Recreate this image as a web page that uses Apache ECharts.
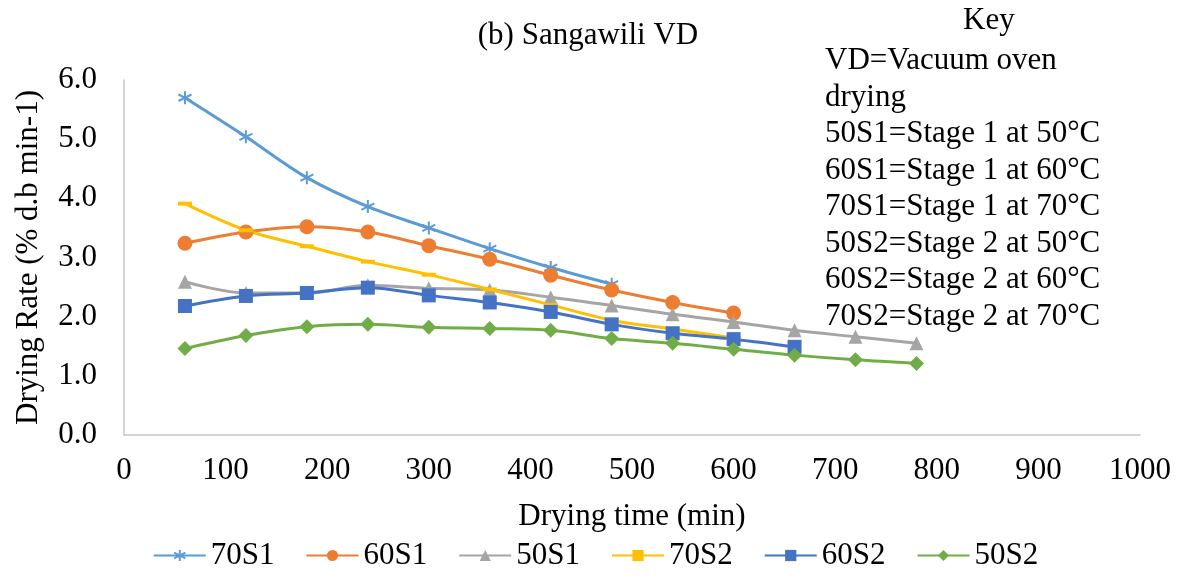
<!DOCTYPE html>
<html>
<head>
<meta charset="utf-8">
<title>Sangawili VD</title>
<script src="https://cdn.jsdelivr.net/npm/echarts@6/dist/echarts.min.js"></script>
<style>
	html, body {
		margin: 0;
		padding: 0;
		background: #fff;
	}
	#chart {
		width: 1191px;
		height: 579px;
	}
</style>
</head>
<body>
<div id="chart"></div>
<script>
// drying time (min), shared by all series
const times = [60, 120, 180, 240, 300, 360, 420, 480, 540, 600, 660, 720, 780];
const rate70S1 = [5.70, 5.04, 4.35, 3.86, 3.50, 3.15, 2.83, 2.55];
const rate60S1 = [3.24, 3.43, 3.52, 3.43, 3.20, 2.97, 2.70, 2.45, 2.24, 2.06];
const rate50S1 = [2.59, 2.40, 2.40, 2.53, 2.48, 2.45, 2.33, 2.19, 2.04, 1.91, 1.77, 1.66, 1.55];
const rate70S2 = [3.91, 3.46, 3.19, 2.93, 2.71, 2.46, 2.20, 1.94, 1.79, 1.64];
const rate60S2 = [2.18, 2.35, 2.40, 2.49, 2.36, 2.24, 2.08, 1.87, 1.72, 1.62, 1.49];
const rate50S2 = [1.46, 1.68, 1.83, 1.87, 1.82, 1.80, 1.77, 1.63, 1.55, 1.45, 1.35, 1.27, 1.21];
const keyLines = [
	'VD=Vacuum oven',
	'drying',
	'50S1=Stage 1 at 50°C',
	'60S1=Stage 1 at 60°C',
	'70S1=Stage 1 at 70°C',
	'50S2=Stage 2 at 50°C',
	'60S2=Stage 2 at 60°C',
	'70S2=Stage 2 at 70°C'
];

const font = "'Liberation Serif', 'Times New Roman', serif";
const fontSize = 31;
const star = 'path://M10,0L10,20M1.3,5L18.7,15M1.3,15L18.7,5';

function pairs(values) {
	return values.map((v, i) => [times[i], v]);
}

function makeSeries(name, values, color, symbol, size) {
	return {
		name: name,
		type: 'line',
		data: pairs(values),
		smooth: 0.35,
		symbol: symbol,
		symbolSize: size,
		showSymbol: true,
		lineStyle: { color: color, width: 3 },
		itemStyle: {
			color: symbol === star ? 'rgba(0,0,0,0)' : color,
			borderColor: color,
			borderWidth: symbol === star ? 2 : 0
		},
		emphasis: { disabled: true }
	};
}

let chart = echarts.init(document.getElementById('chart'));
const opt = {
	animation: false,
	title: {
		text: '(b) Sangawili VD',
		left: 583,
		top: 15,
		textAlign: 'center',
		textStyle: { fontFamily: font, fontSize: fontSize, fontWeight: 'normal', color: '#000' }
	},
	graphic: [
		{
			type: 'text',
			left: 963,
			top: 5,
			style: { text: 'Key', font: fontSize + 'px ' + font, fill: '#000' }
		},
		{
			type: 'text',
			left: 825,
			top: 43,
			style: {
				text: keyLines.join('\n'),
				font: fontSize + 'px ' + font,
				lineHeight: 36.5,
				fill: '#000'
			}
		}
	],
	legend: {
		bottom: 3,
		left: 'center',
		itemWidth: 52,
		itemHeight: 14,
		itemGap: 31,
		textStyle: { fontFamily: font, fontSize: fontSize, color: '#000' },
		data: ['70S1', '60S1', '50S1', '70S2', '60S2', '50S2']
	},
	grid: {
		left: 124,
		right: 51,
		top: 80,
		bottom: 144
	},
	xAxis: {
		type: 'value',
		min: 0,
		max: 1000,
		interval: 100,
		name: 'Drying time (min)',
		nameLocation: 'middle',
		nameGap: 66,
		nameTextStyle: { fontFamily: font, fontSize: fontSize, color: '#000' },
		axisLine: { show: true, lineStyle: { color: '#c8c8c8', width: 1.5 } },
		axisTick: { show: false },
		splitLine: { show: false },
		axisLabel: {
			margin: 20,
			fontFamily: font,
			fontSize: fontSize,
			color: '#000',
			formatter: value => String(value)
		}
	},
	yAxis: {
		type: 'value',
		min: 0,
		max: 6,
		interval: 1,
		name: 'Drying Rate (% d.b min-1)',
		nameLocation: 'middle',
		nameGap: 80,
		nameTextStyle: { fontFamily: font, fontSize: fontSize, color: '#000' },
		axisLine: { show: true, lineStyle: { color: '#c8c8c8', width: 1.5 } },
		axisTick: { show: false },
		splitLine: { show: false },
		axisLabel: {
			margin: 27,
			fontFamily: font,
			fontSize: fontSize,
			color: '#000',
			formatter: value => value.toFixed(1)
		}
	},
	series: [
		makeSeries('70S1', rate70S1, '#5B9BD5', star, 13),
		makeSeries('60S1', rate60S1, '#ED7D31', 'circle', 15),
		makeSeries('50S1', rate50S1, '#A5A5A5', 'triangle', 14),
		makeSeries('70S2', rate70S2, '#FFC000', 'rect', [14, 4]),
		makeSeries('60S2', rate60S2, '#4472C4', 'rect', 14),
		makeSeries('50S2', rate50S2, '#70AD47', 'diamond', 15)
	]
};
chart.setOption(opt);
</script>
</body>
</html>
